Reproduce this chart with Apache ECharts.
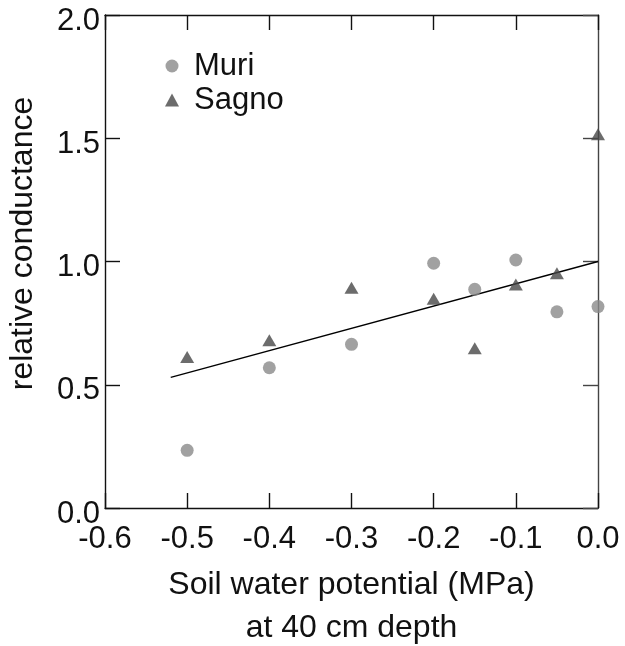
<!DOCTYPE html>
<html>
<head>
<meta charset="utf-8">
<script src="https://cdn.jsdelivr.net/npm/echarts@6/dist/echarts.min.js"></script>
<style>
  html, body { margin: 0; padding: 0; background: #fff; }
  #chart { width: 625px; height: 646px; }
</style>
</head>
<body>
<div id="chart"></div>
<script>
// Relative conductance vs soil water potential at 40 cm depth
const xTicks = [-0.6, -0.5, -0.4, -0.3, -0.2, -0.1, 0.0];
const yTicks = [0.0, 0.5, 1.0, 1.5, 2.0];

const muriX = [-0.5, -0.4, -0.3, -0.2, -0.15, -0.1, -0.05, 0.0];
const muriY = [0.234, 0.569, 0.664, 0.993, 0.887, 1.006, 0.796, 0.817];

const sagnoX = [-0.5, -0.4, -0.3, -0.2, -0.15, -0.1, -0.05, 0.0];
const sagnoY = [0.613, 0.681, 0.894, 0.849, 0.648, 0.907, 0.952, 1.516];

// regression line end points
const fitX = [-0.52, 0.0];
const fitY = [0.53, 1.0];

const zip = (xs, ys) => xs.map((x, i) => [x, ys[i]]);
const FONT = 'Liberation Sans, Arial, sans-serif';
const INK = '#111';

const chart = echarts.init(document.getElementById('chart'), null, { renderer: 'canvas' });

const frameLine = (c) => ({ show: true, onZero: false, lineStyle: { color: c, width: 1.4 } });
const inTick = (c) => ({ show: true, inside: true, length: 15, lineStyle: { color: c, width: 1.4 } });

chart.setOption({
  animation: false,
  backgroundColor: '#fff',
  grid: { left: 105, right: 27, top: 15, bottom: 138, containLabel: false, outerBoundsMode: 'none' },
  legend: {
    left: 160, top: 42, orient: 'vertical', itemGap: -4,
    itemWidth: 14, itemHeight: 13,
    textStyle: { fontFamily: FONT, fontSize: 31, color: INK, lineHeight: 24, padding: [14, 0, 0, 10] },
    data: [
      { name: 'Muri', icon: 'circle' },
      { name: 'Sagno', icon: 'triangle' }
    ]
  },
  xAxis: [
    {
      type: 'value', min: xTicks[0], max: xTicks[xTicks.length - 1], interval: 0.1, position: 'bottom',
      axisLine: frameLine(INK), axisTick: inTick(INK), splitLine: { show: false },
      axisLabel: {
        fontFamily: FONT, fontSize: 31, color: INK, margin: 16,
        formatter: v => v.toFixed(1)
      },
      name: 'Soil water potential (MPa)\nat 40 cm depth',
      nameLocation: 'middle', nameGap: 56,
      nameTextStyle: { fontFamily: FONT, fontSize: 32, color: INK, lineHeight: 43 }
    },
    {
      type: 'value', min: xTicks[0], max: xTicks[xTicks.length - 1], interval: 0.1, position: 'top',
      axisLine: frameLine(INK), axisTick: inTick(INK), axisLabel: { show: false },
      splitLine: { show: false }
    }
  ],
  yAxis: [
    {
      type: 'value', min: yTicks[0], max: yTicks[yTicks.length - 1], interval: 0.5, position: 'left',
      axisLine: frameLine(INK), axisTick: inTick(INK), splitLine: { show: false },
      axisLabel: {
        color: INK, margin: 5,
        formatter: v => '{v|' + v.toFixed(1) + '}',
        rich: { v: { fontFamily: FONT, fontSize: 31, color: INK, padding: [12, 0, 0, 0] } }
      },
      name: 'relative conductance',
      nameLocation: 'middle', nameGap: 66, nameRotate: 90,
      nameTextStyle: { fontFamily: FONT, fontSize: 32, color: INK, padding: [0, 0, 0, 36] }
    },
    {
      type: 'value', min: yTicks[0], max: yTicks[yTicks.length - 1], interval: 0.5, position: 'right',
      axisLine: frameLine('#444'), axisTick: inTick('#444'),
      axisLabel: { show: false }, splitLine: { show: false }
    }
  ],
  series: [
    {
      name: 'Fit', type: 'line', data: zip(fitX, fitY),
      showSymbol: false, symbol: 'none', silent: true,
      lineStyle: { color: '#000', width: 1.3 }, z: 1
    },
    {
      name: 'Muri', type: 'scatter', data: zip(muriX, muriY),
      symbol: 'circle', symbolSize: 13,
      itemStyle: { color: '#8a8a8a' }, z: 3
    },
    {
      name: 'Sagno', type: 'scatter', data: zip(sagnoX, sagnoY),
      symbol: 'triangle', symbolSize: [14, 12],
      itemStyle: { color: '#474747' }, z: 3
    }
  ]
});
</script>
</body>
</html>
